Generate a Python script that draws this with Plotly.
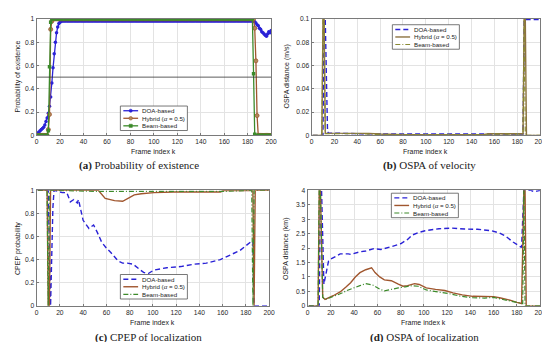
import plotly.graph_objects as go

# ---------------- data ----------------
frames = list(range(1, 201))

# (a) probability of existence, one value per frame k = 1..200
exist_doa = ([0.02, 0.03, 0.04, 0.05, 0.06, 0.07, 0.09, 0.12, 0.15, 0.19,
              0.25, 0.33, 0.45, 0.58, 0.70, 0.80, 0.88, 0.93, 0.96, 0.97, 0.98]
             + [0.982] * 164
             + [0.975, 0.965, 0.95, 0.94, 0.92, 0.91, 0.89, 0.88, 0.87, 0.86,
                0.85, 0.87, 0.89, 0.88, 0.90])
exist_hyb = ([0.0] * 9 + [0.05, 0.18, 0.91, 0.98] + [1.0] * 172
             + [0.92, 0.64, 0.17] + [0.0] * 12)
exist_beam = ([0.0] * 9 + [0.04, 0.59, 0.97] + [1.0] * 172
              + [0.53, 0.01] + [0.0] * 14)
exist_threshold = 0.5

# (b) OSPA of velocity (m/s)
vel_doa_k = [1, 10, 11, 12, 13, 14, 15, 20, 40, 60, 80, 100, 120, 140, 160, 185, 186, 200]
vel_doa = [0, 0, 0.0995, 0.0995, 0.05, 0.003, 0.002, 0.0018, 0.0015, 0.0012, 0.001,
           0.0012, 0.0013, 0.0013, 0.0013, 0.0012, 0.0995, 0.0995]
vel_hyb_k = [1, 9, 10, 11, 12, 20, 40, 50, 60, 70, 80, 100, 150, 155, 160, 185, 186, 187, 188, 200]
vel_hyb = [0, 0, 0.0995, 0.0995, 0.002, 0.002, 0.002, 0.0018, 0.0012, 0.0008, 0.0007,
           0.0007, 0.0007, 0.0015, 0.0015, 0.0015, 0.0995, 0.0995, 0, 0]
vel_beam_k = [1, 9, 10, 11, 12, 40, 60, 80, 150, 160, 185, 186, 187, 200]
vel_beam = [0, 0, 0.0995, 0.0995, 0.0015, 0.0015, 0.0008, 0.0007, 0.0007, 0.0012,
            0.0012, 0.0995, 0, 0]

# (c) CPEP of localization
cpep_doa_k = [1, 10, 12, 13, 14, 15, 19, 22, 26, 29, 32, 35, 36, 40, 45, 49, 52, 56, 60,
              64, 70, 74, 78, 83, 88, 92, 96, 101, 112, 124, 135, 146, 158, 169, 175,
              180, 185, 186, 187, 200]
cpep_doa = [1, 1, 0, 0.45, 0.85, 1.0, 0.99, 0.98, 0.98, 0.9, 0.92, 0.89, 0.92, 0.74, 0.67,
            0.7, 0.64, 0.55, 0.5, 0.46, 0.39, 0.37, 0.37, 0.36, 0.32, 0.29, 0.28, 0.31,
            0.33, 0.34, 0.36, 0.37, 0.4, 0.45, 0.48, 0.52, 0.56, 0.55, 0, 0]
cpep_hyb_k = [1, 9, 10, 11, 12, 53, 59, 62, 67, 74, 78, 84, 90, 101, 118, 158, 161, 186,
              187, 188, 200]
cpep_hyb = [1, 1, 0, 0, 1, 1, 0.93, 0.92, 0.91, 0.905, 0.93, 0.96, 0.97, 0.98, 0.985,
            0.985, 0.998, 0.998, 0, 1, 1]
cpep_beam_k = [1, 9, 10, 11, 55, 160, 185, 186, 187, 200]
cpep_beam = [1, 1, 0, 1, 0.99, 0.99, 1, 0, 1, 1]

# (d) OSPA of localization (km)
loc_doa_k = [1, 10, 11, 12, 14, 18, 20, 28, 35, 37, 45, 50, 57, 63, 72, 80, 86, 90, 95,
             101, 113, 124, 135, 146, 158, 165, 170, 177, 184, 186, 192, 195, 198, 200]
loc_doa = [0, 0, 4, 4, 0.75, 1.55, 1.62, 1.8, 1.8, 1.78, 1.87, 1.9, 1.98, 1.95, 2.05,
           2.15, 2.3, 2.45, 2.53, 2.6, 2.67, 2.69, 2.66, 2.65, 2.6, 2.52, 2.42, 2.2,
           2.02, 4, 4, 3.95, 3.98, 4]
loc_hyb_k = [1, 9, 10, 11, 13, 15, 22, 28, 33, 37, 41, 45, 50, 55, 58, 62, 66, 72, 78,
             82, 86, 92, 96, 102, 110, 118, 125, 133, 142, 150, 156, 160, 166, 174, 180,
             184, 186, 187, 188, 200]
loc_hyb = [0, 0, 4, 4, 0.3, 0.22, 0.35, 0.48, 0.65, 0.8, 1.0, 1.15, 1.25, 1.32, 1.15,
           1.0, 0.9, 0.87, 0.75, 0.68, 0.7, 0.77, 0.74, 0.62, 0.57, 0.53, 0.45, 0.38,
           0.33, 0.32, 0.3, 0.32, 0.27, 0.2, 0.12, 0.08, 4, 4, 0, 0]
loc_beam_k = [1, 9, 10, 11, 13, 15, 27, 35, 45, 50, 56, 62, 66, 72, 78, 84, 90, 95, 102,
              112, 122, 132, 142, 152, 160, 168, 176, 183, 185, 186, 187, 200]
loc_beam = [0, 0, 4, 4, 0.3, 0.22, 0.4, 0.55, 0.7, 0.77, 0.72, 0.58, 0.52, 0.58, 0.62,
            0.66, 0.7, 0.68, 0.55, 0.48, 0.42, 0.33, 0.28, 0.27, 0.29, 0.22, 0.15, 0.08,
            0.08, 4, 0, 0]

names = ["DOA-based", "Hybrid (<i>α</i> = 0.5)", "Beam-based"]
frame_ticks = [0, 20, 40, 60, 80, 100, 120, 140, 160, 180, 200]

# ---------------- styles ----------------
BLUE = "#2a22d6"
BROWN = "#a0562e"
GREEN = "#3c8a2a"
OLIVE_H = "#8c7240"
OLIVE_B = "#8a8a34"
DASH = "5px,3px"
DASHDOT = "5px,2px,1px,2px"
TICKFONT = dict(family="Liberation Sans, Arial", size=6.7, color="#262626")
SANS = "Liberation Sans, Arial"
SERIF = "Liberation Serif, Times New Roman"
W, H = 550, 342

fig = go.Figure()


def add(x, y, xa, ya, color, width, dash=None, marker=None):
    mode = "lines+markers" if marker else "lines"
    fig.add_trace(go.Scatter(x=x, y=y, mode=mode, showlegend=False,
                             line=dict(color=color, width=width, dash=dash),
                             marker=marker, xaxis=xa, yaxis=ya))


# (a)
add(frames, exist_doa, "x", "y", BLUE, 1.3, marker=dict(symbol="circle", size=3.5, color=BLUE))
add(frames, exist_hyb, "x", "y", BROWN, 1.3,
    marker=dict(symbol="circle", size=4, color="#b08a5a", line=dict(color=BROWN, width=0.8)))
add(frames, exist_beam, "x", "y", GREEN, 1.3, marker=dict(symbol="square", size=3.5, color=GREEN))
# (b)
add(vel_doa_k, vel_doa, "x2", "y2", BLUE, 1.4, DASH)
add(vel_hyb_k, vel_hyb, "x2", "y2", OLIVE_H, 1.4)
add(vel_beam_k, vel_beam, "x2", "y2", OLIVE_B, 1.2, DASHDOT)
# (c)
add(cpep_doa_k, cpep_doa, "x3", "y3", BLUE, 1.4, DASH)
add(cpep_hyb_k, cpep_hyb, "x3", "y3", BROWN, 1.4)
add(cpep_beam_k, cpep_beam, "x3", "y3", GREEN, 1.2, DASHDOT)
# (d)
add(loc_doa_k, loc_doa, "x4", "y4", BLUE, 1.4, DASH)
add(loc_hyb_k, loc_hyb, "x4", "y4", BROWN, 1.4)
add(loc_beam_k, loc_beam, "x4", "y4", GREEN, 1.2, DASHDOT)


def xax(dom, anchor):
    return dict(domain=dom, anchor=anchor, range=[0, 200], tickvals=frame_ticks,
                showline=True, linecolor="#7a7a7a", linewidth=1, mirror=True,
                ticks="inside", ticklen=2, tickcolor="#7a7a7a", showgrid=True,
                gridcolor="#e3e3e3", gridwidth=1, zeroline=False, tickfont=TICKFONT)


def yax(dom, anchor, rng, dtick):
    return dict(domain=dom, anchor=anchor, range=rng, dtick=dtick, tick0=0,
                showline=True, linecolor="#7a7a7a", linewidth=1, mirror=True,
                ticks="inside", ticklen=2, tickcolor="#7a7a7a", showgrid=True,
                gridcolor="#e3e3e3", gridwidth=1, zeroline=False, tickfont=TICKFONT)


LX = [27 / W, 265 / W]
RX = [306 / W, 538 / W]
LX2 = [27 / W, 263 / W]
RX2 = [302 / W, 538 / W]
TY = [1 - 126 / H, 1 - 7 / H]
BY = [1 - 300 / H, 1 - 182 / H]

annotations = []
shapes = [dict(type="line", xref="x", yref="y", x0=0, x1=200,
               y0=exist_threshold, y1=exist_threshold,
               line=dict(color="#333333", width=0.8))]


def ann(text, x, y, size, family, angle=0, anchor="center"):
    annotations.append(dict(text=text, x=x / W, y=1 - y / H, xref="paper", yref="paper",
                            showarrow=False, textangle=angle,
                            font=dict(family=family, size=size, color="#222222"),
                            xanchor=anchor, yanchor="middle"))


def px(x):
    return x / W


def py(y):
    return 1 - y / H


def legend_box(left, top, styles, markers=None, width=68, height=25):
    shapes.append(dict(type="rect", xref="paper", yref="paper", x0=px(left), x1=px(left + width),
                       y0=py(top + height), y1=py(top), fillcolor="white",
                       line=dict(color="#555555", width=0.8), layer="above"))
    for i, (name, (color, lw, dash)) in enumerate(zip(names, styles)):
        yy = top + 4.8 + i * 7.7
        shapes.append(dict(type="line", xref="paper", yref="paper", x0=px(left + 3),
                           x1=px(left + 18), y0=py(yy), y1=py(yy),
                           line=dict(color=color, width=lw, dash=dash), layer="above"))
        if markers:
            mtype, fill, r = markers[i]
            cx = left + 10.5
            shapes.append(dict(type=mtype, xref="paper", yref="paper", x0=px(cx - r),
                               x1=px(cx + r), y0=py(yy + r), y1=py(yy - r),
                               fillcolor=fill, line=dict(color=color, width=0.6),
                               layer="above"))
        ann(name, left + 20, yy, 6.2, SANS, anchor="left")


legend_box(112, 96, [(BLUE, 1.3, None), (BROWN, 1.3, None), (GREEN, 1.3, None)],
           markers=[("circle", BLUE, 1.6), ("circle", "#b08a5a", 1.8), ("rect", GREEN, 1.6)])
legend_box(388, 13, [(BLUE, 1.4, DASH), (OLIVE_H, 1.4, None), (OLIVE_B, 1.2, DASHDOT)])
legend_box(112, 268, [(BLUE, 1.4, DASH), (BROWN, 1.4, None), (GREEN, 1.2, DASHDOT)])
legend_box(387, 185, [(BLUE, 1.4, DASH), (BROWN, 1.4, None), (GREEN, 1.2, DASHDOT)])

ann("Frame index k", 146, 142, 7, SANS)
ann("Frame index k", 422, 142, 7, SANS)
ann("Frame index k", 145, 317, 7, SANS)
ann("Frame index k", 420, 317, 7, SANS)
ann("Probability of existence", 8, 66, 7, SANS, -90)
ann("OSPA distance (m/s)", 281, 66, 7, SANS, -90)
ann("CPEP probability", 8, 241, 7, SANS, -90)
ann("OSPA distance (km)", 280, 241, 7, SANS, -90)
ann("<b>(a)</b> Probability of existence", 131, 157, 11, SERIF)
ann("<b>(b)</b> OSPA of velocity", 426, 157, 11, SERIF)
ann("<b>(c)</b> CPEP of localization", 141, 332, 11, SERIF)
ann("<b>(d)</b> OSPA of localization", 421, 332, 11, SERIF)

fig.update_layout(
    width=W, height=H, margin=dict(l=0, r=0, t=0, b=0),
    paper_bgcolor="white", plot_bgcolor="white", showlegend=False,
    xaxis=xax(LX, "y"), yaxis=yax(TY, "x", [0, 1], 0.2),
    xaxis2=xax(RX, "y2"), yaxis2=yax(TY, "x2", [0, 0.1], 0.02),
    xaxis3=xax(LX2, "y3"), yaxis3=yax(BY, "x3", [0, 1], 0.2),
    xaxis4=xax(RX2, "y4"), yaxis4=yax(BY, "x4", [0, 4], 0.5),
    annotations=annotations, shapes=shapes,
)

fig.write_html("out.html")
